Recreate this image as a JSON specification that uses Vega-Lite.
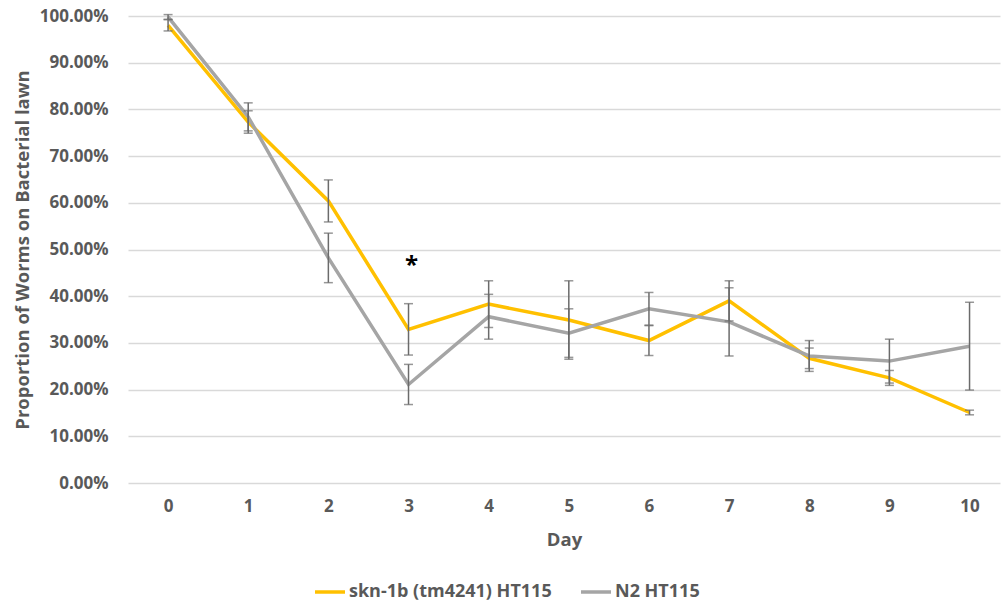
{
  "$schema": "https://vega.github.io/schema/vega-lite/v6.json",
  "autosize": "none",
  "width": 872,
  "height": 467,
  "padding": {"left": 128, "top": 16, "right": 2, "bottom": 120},
  "background": "white",
  "config": {
    "view": {"stroke": null},
    "font": "Open Sans",
    "axis": {"labelFont": "Open Sans", "titleFont": "Open Sans", "labelFontWeight": "bold", "titleFontWeight": "bold", "labelColor": "#595959", "titleColor": "#595959", "labelFontSize": 17, "titleFontSize": 18.5, "ticks": false, "domain": false},
    "legend": {"labelFont": "Open Sans", "labelFontWeight": "bold", "labelColor": "#595959", "labelFontSize": 18, "labelLimit": 400}
  },
  "datasets": {
    "main": [
      {"day": 0, "series": "skn-1b (tm4241) HT115", "value": 0.980, "err": 0.012},
      {"day": 1, "series": "skn-1b (tm4241) HT115", "value": 0.773, "err": 0.024},
      {"day": 2, "series": "skn-1b (tm4241) HT115", "value": 0.604, "err": 0.045},
      {"day": 3, "series": "skn-1b (tm4241) HT115", "value": 0.329, "err": 0.055},
      {"day": 4, "series": "skn-1b (tm4241) HT115", "value": 0.383, "err": 0.050},
      {"day": 5, "series": "skn-1b (tm4241) HT115", "value": 0.349, "err": 0.084},
      {"day": 6, "series": "skn-1b (tm4241) HT115", "value": 0.305, "err": 0.032},
      {"day": 7, "series": "skn-1b (tm4241) HT115", "value": 0.390, "err": 0.043},
      {"day": 8, "series": "skn-1b (tm4241) HT115", "value": 0.267, "err": 0.022},
      {"day": 9, "series": "skn-1b (tm4241) HT115", "value": 0.225, "err": 0.016},
      {"day": 10, "series": "skn-1b (tm4241) HT115", "value": 0.151, "err": 0.005},
      {"day": 0, "series": "N2 HT115", "value": 0.998, "err": 0.005},
      {"day": 1, "series": "N2 HT115", "value": 0.784, "err": 0.030},
      {"day": 2, "series": "N2 HT115", "value": 0.482, "err": 0.053},
      {"day": 3, "series": "N2 HT115", "value": 0.211, "err": 0.043},
      {"day": 4, "series": "N2 HT115", "value": 0.356, "err": 0.048},
      {"day": 5, "series": "N2 HT115", "value": 0.321, "err": 0.052},
      {"day": 6, "series": "N2 HT115", "value": 0.373, "err": 0.035},
      {"day": 7, "series": "N2 HT115", "value": 0.345, "err": 0.073},
      {"day": 8, "series": "N2 HT115", "value": 0.272, "err": 0.033},
      {"day": 9, "series": "N2 HT115", "value": 0.261, "err": 0.047},
      {"day": 10, "series": "N2 HT115", "value": 0.293, "err": 0.094}
    ],
    "annot": [
      {"day": 3, "value": 0.478, "label": "*"}
    ]
  },
  "layer": [
    {
      "data": {"name": "main"},
      "mark": {"type": "line", "strokeWidth": 3.5},
      "encoding": {
        "x": {"field": "day", "type": "quantitative", "scale": {"domain": [-0.5, 10.38], "nice": false, "zero": false},
              "axis": {"values": [0,1,2,3,4,5,6,7,8,9,10], "grid": false, "title": "Day", "labelPadding": 15, "titlePadding": 16, "format": "d"}},
        "y": {"field": "value", "type": "quantitative", "scale": {"domain": [0, 1], "nice": false}, "title": "Proportion of Worms on Bacterial lawn",
              "axis": {"values": [0,0.1,0.2,0.3,0.4,0.5,0.6,0.7,0.8,0.9,1], "format": ".2%", "grid": true, "gridColor": "#d9d9d9", "gridWidth": 1.5, "labelPadding": 20, "titlePadding": 7}},
        "color": {"field": "series", "type": "nominal",
                  "scale": {"domain": ["skn-1b (tm4241) HT115", "N2 HT115"], "range": ["#FFC000", "#A5A5A5"]},
                  "legend": {"orient": "none", "legendX": 185, "legendY": 559, "direction": "horizontal", "title": null, "symbolType": "stroke", "symbolSize": 900, "symbolStrokeWidth": 3.5, "columnPadding": 22, "labelOffset": 2}}
      }
    },
    {
      "data": {"name": "main"},
      "mark": {"type": "errorbar", "color": "#6b6b6b", "thickness": 1.5, "ticks": {"size": 9, "color": "#6b6b6b"}},
      "encoding": {
        "x": {"field": "day", "type": "quantitative"},
        "y": {"field": "value", "type": "quantitative", "title": "Proportion of Worms on Bacterial lawn"},
        "yError": {"field": "err"},
        "detail": {"field": "series"}
      }
    },
    {
      "data": {"name": "annot"},
      "mark": {"type": "text", "fontSize": 24, "fontWeight": "bold", "color": "#000000", "dx": 3, "dy": 6},
      "encoding": {
        "x": {"field": "day", "type": "quantitative"},
        "y": {"field": "value", "type": "quantitative"},
        "text": {"field": "label"}
      }
    }
  ]
}
